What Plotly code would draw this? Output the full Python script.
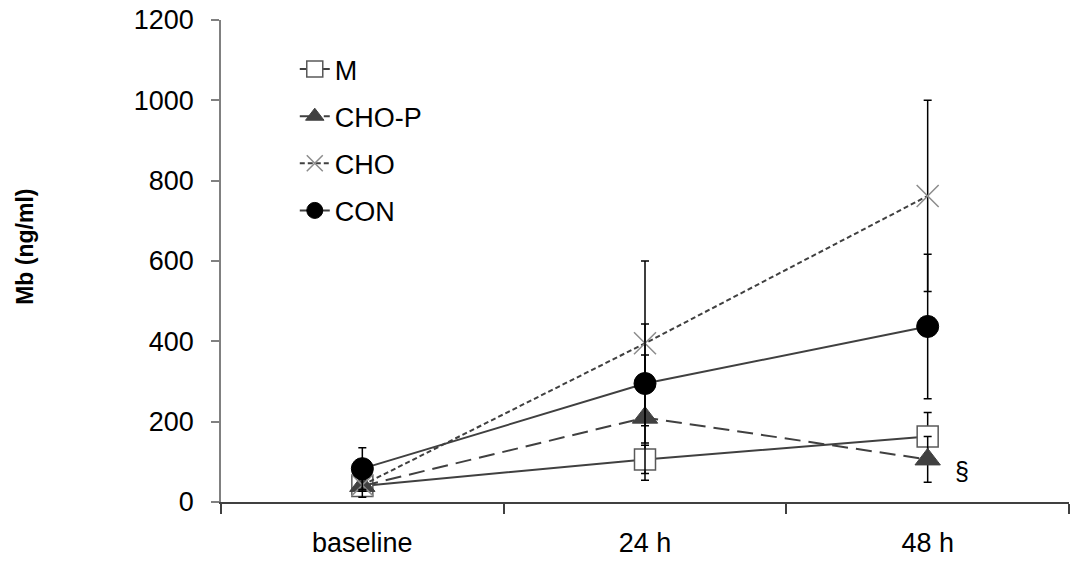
import plotly.graph_objects as go

categories = ["baseline", "24 h", "48 h"]

m_vals = [40, 106, 163]
m_err = [10, 35, 60]

chop_vals = [40, 210, 106]
chop_err = [28, 156, 57]

cho_vals = [42, 395, 762]
cho_err = [15, 205, 238]

con_vals = [83, 295, 437]
con_err = [52, 148, 180]

yticks = [0, 200, 400, 600, 800, 1000, 1200]

FONT = "Liberation Sans, Arial, sans-serif"
LINE = "#404040"

fig = go.Figure()

err_style = dict(type="data", color="#000000", thickness=1.5, width=4, visible=True)

fig.add_trace(go.Scatter(
    x=categories, y=m_vals, name="M", mode="lines+markers",
    line=dict(color=LINE, width=2),
    marker=dict(symbol="square", size=21, color="#ffffff", line=dict(color="#595959", width=1.5)),
    error_y=dict(array=m_err, **err_style), legendgroup="a"))

fig.add_trace(go.Scatter(
    x=categories, y=chop_vals, name="CHO-P", mode="lines+markers",
    line=dict(color=LINE, width=2, dash="16px,8px"),
    marker=dict(symbol="triangle-up", size=22, color="#404040", line=dict(color="#404040", width=1)),
    error_y=dict(array=chop_err, **err_style), legendgroup="b"))

fig.add_trace(go.Scatter(
    x=categories, y=cho_vals, name="CHO", mode="lines+markers",
    line=dict(color=LINE, width=2, dash="5px,3px"),
    marker=dict(symbol="x-thin", size=22, color="#808080", line=dict(color="#8c8c8c", width=1.5)),
    error_y=dict(array=cho_err, **err_style), legendgroup="c"))

fig.add_trace(go.Scatter(
    x=categories, y=con_vals, name="CON", mode="lines+markers",
    line=dict(color=LINE, width=2),
    marker=dict(symbol="circle", size=22, color="#000000", line=dict(color="#000000", width=1)),
    error_y=dict(array=con_err, **err_style), legendgroup="d"))

fig.add_annotation(x=2.12, y=78, xref="x", yref="y", text="§", showarrow=False,
                   font=dict(family=FONT, size=25, color="#000000"))

fig.add_annotation(x=-0.232, y=0.53, xref="paper", yref="paper", text="<b>Mb (ng/ml)</b>",
                   xanchor="center", yanchor="middle",
                   textangle=-90, showarrow=False,
                   font=dict(family=FONT, size=23, color="#000000"))

fig.update_layout(
    width=1071, height=561,
    margin=dict(l=221, r=2, t=20, b=59),
    paper_bgcolor="#ffffff", plot_bgcolor="#ffffff",
    font=dict(family=FONT, size=27, color="#000000"),
    showlegend=True,
    legend=dict(x=0.087, y=0.948, xanchor="left", yanchor="top",
                bgcolor="rgba(0,0,0,0)", borderwidth=0, tracegroupgap=9,
                font=dict(family=FONT, size=27, color="#000000")),
    xaxis=dict(type="category", categoryarray=categories, range=[-0.5, 2.5],
               showgrid=False, zeroline=False, showline=True, linecolor="#404040", linewidth=1.5,
               ticks="outside", ticklen=10, tickcolor="#404040", tickwidth=1.5,
               tickson="boundaries", ticklabelstandoff=16,
               tickfont=dict(family=FONT, size=27, color="#000000")),
    yaxis=dict(range=[0, 1200], tickvals=yticks, showgrid=False, zeroline=False,
               showline=True, linecolor="#808080", linewidth=1.5,
               ticks="outside", ticklen=8, tickcolor="#808080", tickwidth=1.5,
               ticklabelstandoff=12,
               tickfont=dict(family=FONT, size=27, color="#000000")),
)

fig.write_html("out.html")
